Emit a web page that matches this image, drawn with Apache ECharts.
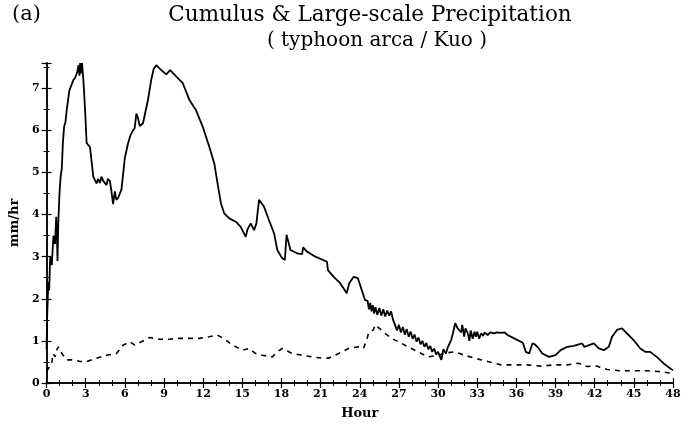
<!DOCTYPE html>
<html style="height: 100%">
<head>
<meta charset="utf-8">
</head>
<body style="height: 100%; margin: 0; background: #fff">
<div id="container" style="width: 691px; height: 427px"></div>
<script type="text/javascript" src="https://cdn.jsdelivr.net/npm/echarts/dist/echarts.min.js"></script>
<script type="text/javascript">
// solid line: total (cumulus + large-scale) rain rate, mm/hr
var solidHour = [0, 0.05, 0.13, 0.2, 0.28, 0.4, 0.53, 0.65, 0.74, 0.8, 0.84, 0.9, 0.99, 1.08, 1.17, 1.25, 1.35, 1.45, 1.55, 1.75,
    2.06, 2.2, 2.36, 2.45, 2.52, 2.57, 2.65, 2.72, 2.82, 2.95, 3.07, 3.33, 3.58, 3.83, 3.95, 4.09, 4.2, 4.34, 4.6, 4.7,
    4.85, 4.95, 5.1, 5.23, 5.35, 5.49, 5.74, 6.0, 6.25, 6.45, 6.63, 6.75, 6.88, 7.0, 7.14, 7.39, 7.77, 8.02, 8.2, 8.4,
    8.79, 9.17, 9.47, 9.93, 10.44, 10.95, 11.45, 11.96, 12.47, 12.85, 13.1, 13.36, 13.61, 14.0, 14.5, 14.88, 15.26, 15.4, 15.64, 15.9,
    16.08, 16.28, 16.66, 17.04, 17.43, 17.68, 18.06, 18.26, 18.39, 18.69, 19.2, 19.58, 19.66, 19.96, 20.6, 21.49, 21.56, 22.0, 22.5, 23.0,
    23.19, 23.52, 23.85, 24.15, 24.4, 24.6, 24.7, 24.8, 24.9, 25.0, 25.1, 25.2, 25.35, 25.5, 25.65, 25.8, 25.95, 26.1, 26.25, 26.4,
    26.55, 26.7, 26.85, 27.0, 27.15, 27.3, 27.45, 27.6, 27.75, 27.9, 28.05, 28.2, 28.35, 28.5, 28.65, 28.8, 28.95, 29.1, 29.25, 29.4,
    29.55, 29.7, 29.85, 30.0, 30.25, 30.4, 30.6, 30.76, 31.0, 31.14, 31.31, 31.5, 31.64, 31.77, 31.85, 32.0, 32.1, 32.28, 32.4, 32.5,
    32.65, 32.79, 32.9, 33.0, 33.15, 33.3, 33.45, 33.55, 33.8, 34.0, 34.3, 34.5, 34.82, 35.1, 35.33, 35.83, 36.34, 36.5, 36.72, 36.98,
    37.23, 37.4, 37.61, 37.99, 38.5, 39.0, 39.39, 39.9, 40.4, 41.04, 41.2, 41.42, 41.93, 42.31, 42.7, 43.08, 43.33, 43.71, 44.09, 44.47,
    44.98, 45.49, 45.7, 45.87, 46.25, 46.76, 47.26, 47.77, 48.0];
var solidRate = [0.8, 1.6, 2.4, 2.2, 3.0, 2.8, 3.5, 3.3, 3.95, 3.4, 2.9, 3.8, 4.5, 4.9, 5.1, 5.7, 6.1, 6.2, 6.5, 6.95,
    7.2, 7.25, 7.4, 7.55, 7.3, 7.6, 7.35, 7.6, 7.2, 6.5, 5.7, 5.6, 4.9, 4.74, 4.85, 4.75, 4.9, 4.8, 4.7, 4.85,
    4.8, 4.6, 4.25, 4.55, 4.35, 4.4, 4.6, 5.35, 5.7, 5.9, 6.0, 6.05, 6.4, 6.3, 6.1, 6.17, 6.72, 7.2, 7.45, 7.55,
    7.43, 7.33, 7.43, 7.28, 7.12, 6.72, 6.48, 6.09, 5.61, 5.22, 4.74, 4.27, 4.03, 3.91, 3.83, 3.71, 3.47, 3.65, 3.79, 3.63,
    3.79, 4.35, 4.19, 3.87, 3.56, 3.16, 2.96, 2.92, 3.52, 3.16, 3.08, 3.06, 3.22, 3.12, 3.0, 2.88, 2.68, 2.52, 2.37, 2.13,
    2.37, 2.52, 2.49, 2.21, 1.97, 1.95, 1.75, 1.9, 1.7, 1.85, 1.65, 1.8, 1.62, 1.78, 1.6, 1.75, 1.58, 1.72, 1.6, 1.7,
    1.5, 1.38, 1.25, 1.38, 1.2, 1.33, 1.15, 1.28, 1.1, 1.22, 1.05, 1.15, 0.98, 1.08, 0.92, 1.0, 0.86, 0.95, 0.8, 0.88,
    0.74, 0.82, 0.68, 0.74, 0.55, 0.8, 0.7, 0.86, 1.02, 1.18, 1.42, 1.3, 1.34, 1.2, 1.38, 1.1, 1.3, 1.18, 1.0, 1.25,
    1.05, 1.22, 1.1, 1.22, 1.05, 1.18, 1.12, 1.2, 1.14, 1.2, 1.18, 1.2, 1.19, 1.2, 1.14, 1.06, 0.98, 0.95, 0.74, 0.7,
    0.94, 0.92, 0.86, 0.7, 0.62, 0.66, 0.78, 0.86, 0.88, 0.94, 0.86, 0.88, 0.94, 0.82, 0.78, 0.86, 1.1, 1.26, 1.3, 1.18,
    1.02, 0.82, 0.78, 0.74, 0.74, 0.62, 0.47, 0.35, 0.3];

// dashed line
var dashHour = [0, 0.15, 0.3, 0.4, 0.5, 0.66, 0.8, 0.91, 1.17, 1.55, 2.06, 2.57, 3.07, 3.83, 4.6, 5.36, 5.87, 6.38, 6.76, 7.26,
    7.9, 8.66, 9.42, 10.18, 10.95, 11.71, 12.47, 13.1, 13.74, 14.25, 15.0, 15.52, 16.02, 16.53, 17.3, 17.68, 18.06, 18.82, 19.58, 20.34,
    21.1, 21.6, 22.38, 23.14, 23.9, 24.28, 24.53, 24.67, 25.04, 25.17, 25.5, 25.93, 26.44, 27.2, 27.7, 28.47, 29.23, 30.0, 30.76, 31.26,
    32.03, 32.79, 33.8, 34.82, 35.83, 36.85, 37.87, 38.88, 39.9, 40.78, 41.42, 42.06, 42.95, 43.96, 44.98, 45.99, 47.01, 47.9];
var dashRate = [0.28, 0.31, 0.42, 0.47, 0.7, 0.62, 0.8, 0.86, 0.7, 0.55, 0.55, 0.51, 0.51, 0.59, 0.66, 0.7, 0.9, 0.98, 0.9, 0.98,
    1.08, 1.04, 1.04, 1.06, 1.06, 1.06, 1.1, 1.14, 1.02, 0.9, 0.78, 0.82, 0.7, 0.66, 0.62, 0.74, 0.82, 0.7, 0.66, 0.62,
    0.59, 0.59, 0.7, 0.82, 0.86, 0.82, 1.02, 1.18, 1.26, 1.38, 1.3, 1.18, 1.06, 0.94, 0.86, 0.74, 0.62, 0.66, 0.72, 0.74,
    0.66, 0.59, 0.51, 0.43, 0.43, 0.43, 0.4, 0.43, 0.43, 0.47, 0.39, 0.41, 0.32, 0.29, 0.29, 0.29, 0.27, 0.23];

function pairs(xs, ys) {
    var out = [];
    for (var i = 0; i < xs.length; i++) out.push([xs[i], ys[i]]);
    return out;
}

var font = 'DejaVu Serif';
var lbl = {color: '#000', fontFamily: font, fontWeight: 'bold', fontSize: 11};
var axLine = {show: true, lineStyle: {color: '#000', width: 1.5}};

var myChart = echarts.init(document.getElementById('container'));
var option = {
    animation: false,
    backgroundColor: '#fff',
    graphic: [
        {type: 'text', x: 12, y: 4, style: {text: '(a)', font: '21px ' + font, fill: '#000'}},
        {type: 'text', x: 370, y: 4, style: {text: 'Cumulus & Large-scale Precipitation', font: '21.5px ' + font, fill: '#000', textAlign: 'center'}},
        {type: 'text', x: 377, y: 31, style: {text: '( typhoon arca / Kuo )', font: '20px ' + font, fill: '#000', textAlign: 'center'}}
    ],
    grid: {left: 43, right: 18, top: 63, bottom: 44},
    xAxis: [
        {
            type: 'value', min: 0, max: 48, interval: 3,
            name: 'Hour', nameLocation: 'middle', nameGap: 24,
            nameTextStyle: {color: '#000', fontFamily: font, fontWeight: 'bold', fontSize: 13},
            axisLine: axLine,
            axisTick: {inside: true, length: 5, lineStyle: {color: '#000', width: 1.2}},
            minorTick: {show: true, splitNumber: 3, length: 3, lineStyle: {color: '#000'}},
            axisLabel: Object.assign({margin: 6}, lbl),
            splitLine: {show: false}
        },
        {
            type: 'value', min: 0, max: 48, interval: 3, position: 'top',
            axisLine: axLine,
            axisTick: {inside: true, length: 5, lineStyle: {color: '#000', width: 1.2}},
            minorTick: {show: true, splitNumber: 3, length: 3, lineStyle: {color: '#000'}},
            axisLabel: {show: false},
            splitLine: {show: false}
        }
    ],
    yAxis: [
        {
            type: 'value', min: 0, max: 7.6, interval: 1,
            name: 'mm/hr', nameLocation: 'middle', nameGap: 20,
            nameTextStyle: {color: '#000', fontFamily: font, fontWeight: 'bold', fontSize: 13},
            axisLine: axLine,
            axisTick: {inside: true, length: 5, lineStyle: {color: '#000', width: 1.2}},
            minorTick: {show: true, splitNumber: 2, length: 3, lineStyle: {color: '#000'}},
            axisLabel: Object.assign({margin: 7, showMaxLabel: false}, lbl),
            splitLine: {show: false}
        },
        {
            type: 'value', min: 0, max: 7.6, interval: 1, position: 'right',
            axisLine: axLine,
            axisTick: {inside: true, length: 5, lineStyle: {color: '#000', width: 1.2}},
            minorTick: {show: true, splitNumber: 2, length: 3, lineStyle: {color: '#000'}},
            axisLabel: {show: false},
            splitLine: {show: false}
        }
    ],
    series: [
        {
            name: 'total', type: 'line', showSymbol: false,
            data: pairs(solidHour, solidRate),
            lineStyle: {color: '#000', width: 1.8}
        },
        {
            name: 'large-scale', type: 'line', showSymbol: false,
            data: pairs(dashHour, dashRate),
            lineStyle: {color: '#000', width: 1.6, type: [5, 5]}
        }
    ]
};
myChart.setOption(option);
</script>
</body>
</html>
